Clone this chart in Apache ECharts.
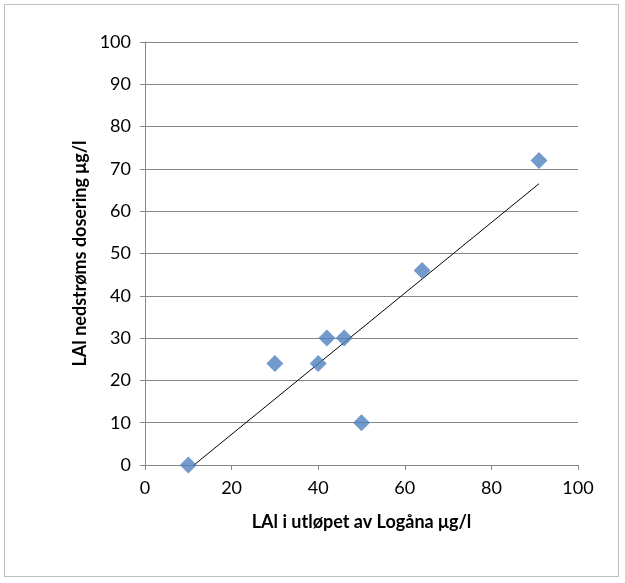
<!DOCTYPE html>
<html><head><meta charset="utf-8">
<script src="https://cdn.jsdelivr.net/npm/echarts@6/dist/echarts.min.js"></script>
<style>html,body{margin:0;padding:0;background:#fff}
#c{width:625px;height:583px}
#frame{position:absolute;left:4px;top:4px;width:615px;height:573px;border:1px solid #bfbfbf;box-sizing:border-box;pointer-events:none}</style>
</head><body><div id="c"></div><div id="frame"></div>
<script>
var xVals = [10, 30, 40, 42, 46, 50, 64, 91];
var yVals = [0, 24, 24, 30, 30, 10, 46, 72];
var trendX = [10, 91];
var trendY = [-1.1, 66.5];

var points = [];
for (var i = 0; i < xVals.length; i++) points.push([xVals[i], yVals[i]]);
var trend = [];
for (var j = 0; j < trendX.length; j++) trend.push([trendX[j], trendY[j]]);

var chart = echarts.init(document.getElementById('c'));
var font = 'Lato, "Open Sans", sans-serif';
chart.setOption({
	animation: false,
	grid: {left: 145, right: 47, top: 42, bottom: 118},
	xAxis: {
		type: 'value', min: 0, max: 100, interval: 20,
		name: 'LAl i utløpet av Logåna μg/l', nameLocation: 'middle', nameGap: 48,
		nameTextStyle: {fontFamily: font, fontSize: 18, fontWeight: 'bold', color: '#000'},
		axisLine: {lineStyle: {color: '#868686'}},
		axisTick: {show: true, length: 5, lineStyle: {color: '#868686'}},
		axisLabel: {fontFamily: font, fontSize: 18, color: '#000', margin: 14},
		splitLine: {show: false}
	},
	yAxis: {
		type: 'value', min: 0, max: 100, interval: 10,
		name: 'LAl nedstrøms dosering μg/l', nameLocation: 'middle', nameGap: 55,
		nameTextStyle: {fontFamily: font, fontSize: 18, fontWeight: 'bold', color: '#000'},
		axisLine: {show: true, lineStyle: {color: '#868686'}},
		axisTick: {show: true, length: 5, lineStyle: {color: '#868686'}},
		axisLabel: {fontFamily: font, fontSize: 18, color: '#000', margin: 14},
		splitLine: {lineStyle: {color: '#868686'}}
	},
	series: [
		{type: 'scatter', data: points, symbol: 'diamond', symbolSize: 17,
		 itemStyle: {color: '#4f81bd'}, z: 3},
		{type: 'line', data: trend, symbol: 'none', lineStyle: {color: '#000', width: 1}, z: 2}
	]
});
</script></body></html>
